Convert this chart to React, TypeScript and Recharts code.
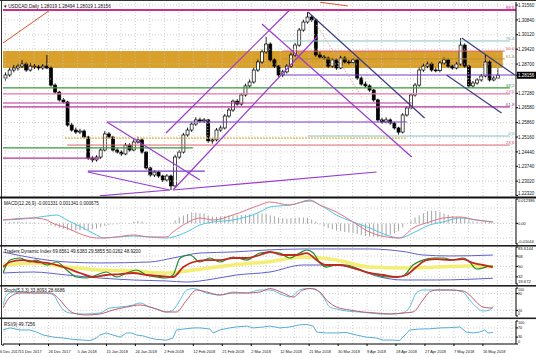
import React from 'react';
import { ComposedChart, Bar, Line, XAxis, YAxis, ReferenceLine, ReferenceArea, ReferenceDot } from 'recharts';

const FONT = '"Liberation Sans", Arial, sans-serif';
const CW = 536;
const PL = 3;
const AXW = 20;
const XD: [number, number] = [0, 124];
const GRID = '#c4c4c4';

// ---------- data ----------
const dateLabels = ['6 Dec 2017', '15 Dec 2017', '26 Dec 2017', '5 Jan 2018', '15 Jan 2018', '24 Jan 2018', '2 Feb 2018', '12 Feb 2018', '21 Feb 2018', '2 Mar 2018', '12 Mar 2018', '21 Mar 2018', '30 Mar 2018', '9 Apr 2018', '18 Apr 2018', '27 Apr 2018', '7 May 2018', '16 May 2018'];
const dateTickIdx = [0, 4, 11, 18, 25, 32, 39, 46, 53, 60, 67, 74, 81, 88, 95, 102, 109, 116];
const gridX = [0.5, 4, 7.5, 11, 14.5, 18, 21.5, 25, 28.5, 32, 35.5, 39, 42.5, 46, 49.5, 53, 56.5, 60, 63.5, 67, 70.5, 74, 77.5, 81, 84.5, 88, 91.5, 95, 98.5, 102, 105.5, 109, 112.5, 116, 119.5, 123];

const priceTicks = [1.3156, 1.3084, 1.3012, 1.2942, 1.287, 1.2728, 1.2658, 1.2586, 1.2516, 1.2444, 1.2374, 1.2302, 1.2232];
const priceGrid = [1.3156, 1.3084, 1.3012, 1.2942, 1.287, 1.2798, 1.2728, 1.2658, 1.2586, 1.2516, 1.2444, 1.2374, 1.2302];

// [open, high, low, close]
const ohlc: [number, number, number, number][] = [
  [1.2802, 1.2830, 1.2790, 1.2817], [1.2817, 1.2852, 1.2808, 1.2841], [1.2841, 1.2866, 1.2830, 1.2851], [1.2851, 1.2872, 1.2838, 1.2860], [1.2860, 1.2889, 1.2850, 1.2870],
  [1.2870, 1.2878, 1.2832, 1.2841], [1.2841, 1.2874, 1.2833, 1.2860], [1.2860, 1.2871, 1.2846, 1.2856], [1.2856, 1.2866, 1.2840, 1.2851], [1.2851, 1.2870, 1.2842, 1.2860],
  [1.2860, 1.2914, 1.2845, 1.2851], [1.2851, 1.2858, 1.2760, 1.2768], [1.2768, 1.2776, 1.2725, 1.2734], [1.2734, 1.2740, 1.2688, 1.2696], [1.2696, 1.2705, 1.2679, 1.2686],
  [1.2686, 1.2692, 1.2566, 1.2574], [1.2574, 1.2585, 1.2542, 1.2550], [1.2550, 1.2562, 1.2531, 1.2540], [1.2540, 1.2556, 1.2530, 1.2545], [1.2545, 1.2553, 1.2508, 1.2516],
  [1.2516, 1.2522, 1.2405, 1.2414], [1.2414, 1.2425, 1.2394, 1.2405], [1.2405, 1.2428, 1.2397, 1.2419], [1.2419, 1.2462, 1.2410, 1.2453], [1.2453, 1.2545, 1.2446, 1.2531],
  [1.2531, 1.2540, 1.2508, 1.2516], [1.2516, 1.2522, 1.2445, 1.2453], [1.2453, 1.2462, 1.2436, 1.2443], [1.2443, 1.2452, 1.2425, 1.2434], [1.2434, 1.2488, 1.2428, 1.2477],
  [1.2477, 1.2486, 1.2445, 1.2453], [1.2453, 1.2505, 1.2447, 1.2492], [1.2492, 1.2518, 1.2484, 1.2502], [1.2502, 1.2510, 1.2435, 1.2443], [1.2443, 1.2449, 1.2358, 1.2366],
  [1.2366, 1.2372, 1.2324, 1.2332], [1.2332, 1.2355, 1.2322, 1.2346], [1.2346, 1.2352, 1.2318, 1.2327], [1.2327, 1.2333, 1.2298, 1.2308], [1.2308, 1.2336, 1.2300, 1.2327],
  [1.2327, 1.2335, 1.2259, 1.2279], [1.2279, 1.2430, 1.2270, 1.2419], [1.2419, 1.2452, 1.2410, 1.2443], [1.2443, 1.2536, 1.2436, 1.2526], [1.2526, 1.2562, 1.2518, 1.2550],
  [1.2550, 1.2590, 1.2541, 1.2579], [1.2579, 1.2612, 1.2570, 1.2599], [1.2599, 1.2610, 1.2585, 1.2594], [1.2594, 1.2608, 1.2584, 1.2599], [1.2599, 1.2604, 1.2488, 1.2497],
  [1.2497, 1.2512, 1.2484, 1.2502], [1.2502, 1.2560, 1.2495, 1.2550], [1.2550, 1.2572, 1.2541, 1.2560], [1.2560, 1.2628, 1.2553, 1.2618], [1.2618, 1.2658, 1.2610, 1.2647],
  [1.2647, 1.2698, 1.2638, 1.2690], [1.2690, 1.2700, 1.2668, 1.2676], [1.2676, 1.2730, 1.2668, 1.2720], [1.2720, 1.2775, 1.2712, 1.2764], [1.2764, 1.2795, 1.2755, 1.2783],
  [1.2783, 1.2852, 1.2775, 1.2841], [1.2841, 1.2892, 1.2832, 1.2880], [1.2880, 1.2940, 1.2872, 1.2929], [1.2929, 1.3001, 1.2920, 1.2967], [1.2967, 1.2975, 1.2882, 1.2890],
  [1.2890, 1.2898, 1.2851, 1.2860], [1.2860, 1.2866, 1.2808, 1.2817], [1.2817, 1.2843, 1.2806, 1.2832], [1.2832, 1.2870, 1.2824, 1.2860], [1.2860, 1.2925, 1.2852, 1.2914],
  [1.2914, 1.2972, 1.2905, 1.2962], [1.2962, 1.3045, 1.2954, 1.3035], [1.3035, 1.3085, 1.3027, 1.3074], [1.3074, 1.3122, 1.3066, 1.3098], [1.3098, 1.3108, 1.3075, 1.3084],
  [1.3084, 1.3090, 1.2905, 1.2914], [1.2914, 1.2930, 1.2895, 1.2904], [1.2904, 1.2915, 1.2890, 1.2899], [1.2899, 1.2906, 1.2851, 1.2860], [1.2860, 1.2900, 1.2852, 1.2890],
  [1.2890, 1.2897, 1.2842, 1.2851], [1.2851, 1.2910, 1.2845, 1.2899], [1.2899, 1.2908, 1.2871, 1.2880], [1.2880, 1.2890, 1.2868, 1.2878], [1.2878, 1.2900, 1.2870, 1.2890],
  [1.2890, 1.2897, 1.2793, 1.2802], [1.2802, 1.2810, 1.2765, 1.2773], [1.2773, 1.2785, 1.2755, 1.2764], [1.2764, 1.2772, 1.2735, 1.2744], [1.2744, 1.2750, 1.2687, 1.2696],
  [1.2696, 1.2702, 1.2590, 1.2599], [1.2599, 1.2610, 1.2580, 1.2589], [1.2589, 1.2612, 1.2582, 1.2599], [1.2599, 1.2606, 1.2576, 1.2584], [1.2584, 1.2590, 1.2552, 1.2560],
  [1.2560, 1.2566, 1.2528, 1.2540], [1.2540, 1.2632, 1.2533, 1.2623], [1.2623, 1.2666, 1.2615, 1.2657], [1.2657, 1.2730, 1.2650, 1.2720], [1.2720, 1.2778, 1.2712, 1.2768],
  [1.2768, 1.2852, 1.2760, 1.2841], [1.2841, 1.2872, 1.2832, 1.2860], [1.2860, 1.2882, 1.2850, 1.2870], [1.2870, 1.2878, 1.2833, 1.2841], [1.2841, 1.2852, 1.2830, 1.2838],
  [1.2838, 1.2886, 1.2830, 1.2875], [1.2875, 1.2902, 1.2866, 1.2890], [1.2890, 1.2897, 1.2852, 1.2860], [1.2860, 1.2868, 1.2843, 1.2851], [1.2851, 1.2880, 1.2844, 1.2870],
  [1.2870, 1.2996, 1.2862, 1.2962], [1.2962, 1.2970, 1.2852, 1.2860], [1.2860, 1.2866, 1.2755, 1.2764], [1.2764, 1.2788, 1.2756, 1.2778], [1.2778, 1.2802, 1.2770, 1.2793],
  [1.2793, 1.2822, 1.2785, 1.2812], [1.2812, 1.2914, 1.2805, 1.2880], [1.2880, 1.2888, 1.2785, 1.2793], [1.2793, 1.2812, 1.2786, 1.2802], [1.28019, 1.28494, 1.28019, 1.28156],
];
const lastClose = ohlc[ohlc.length - 1][3];

// chart objects: [barIndex1, price1, barIndex2, price2]
type Seg = [number, number, number, number];
const violetTrend: Seg[] = [
  [39.4, 1.25357, 69.3, 1.31322],
  [41.1, 1.22592, 76.1, 1.30061],
  [62.6, 1.30643, 98.8, 1.24192],
  [41.1, 1.22592, 90.3, 1.23465],
  [25.1, 1.2589, 47.6, 1.23077],
  [20.5, 1.23465, 40.3, 1.22592],
  [23.4, 1.2231, 40.3, 1.22592],
];
const darkTrend: Seg[] = [
  [73.7, 1.31225, 101.9, 1.26084],
  [110.9, 1.29964, 123.7, 1.2817],
  [107.2, 1.2817, 120.5, 1.26326],
];
const orangeTrend: Seg[] = [
  [0, 1.29722, 11.4, 1.31322],
  [76.6, 1.3170, 83.3, 1.3152],
];
const dottedTrend: Seg[] = [[75.8, 1.30595, 86.7, 1.27103]];

// horizontal levels: [price, fromBar, toBar]
type Lvl = [number, number, number];
const topLevel: Lvl[] = [[1.3132, 0, 124]];
const tealLevels: Lvl[] = [[1.2982, 67.6, 122.5], [1.2521, 73.7, 122.5]];
const redLevels: Lvl[] = [[1.2933, 67.6, 121.3], [1.2477, 15.5, 122.5]];
const oliveLevels: Lvl[] = [[1.2895, 67.6, 121.3]];
const purpleLevels: Lvl[] = [[1.2817, 67.6, 124], [1.2589, 25.1, 97.6], [1.2351, 20.5, 48.8]];
const greenLevels: Lvl[] = [[1.2754, 0, 122.5], [1.2463, 0, 45.9]];
const pinkLevels: Lvl[] = [[1.2725, 0, 122.5]];
const magentaLevels: Lvl[] = [[1.2681, 0, 98.8], [1.2662, 0, 122.5], [1.2414, 0, 23.4]];
const orangeLevels: Lvl[] = [[1.2511, 15, 97.6]];
const zone = { x1: 0, x2: 120.8, y1: 1.2851, y2: 1.2933 };

const fibLabels: [string, number][] = [
  ['88.6', 1.3132], ['76.4', 1.2982], ['50.0', 1.2933], ['61.8', 1.2895], ['38.2', 1.2754],
  ['23.6', 1.2725], ['61.8', 1.2662], ['0.0', 1.2521], ['23.6', 1.2477],
];
const fibLabelColors = ['#c8308e', '#5e9c9c', '#d85050', '#a08a40', '#3a963a', '#dc6aa0', '#b03090', '#5e9c9c', '#d84060'];

// MACD
const macdHist = [
  0.0004, 0.0006, 0.0008, 0.0008, 0.0007, 0.0006, 0.0005, 0.0004, 0.0003, 0.0001,
  -0.0002, -0.001, -0.0016, -0.0022, -0.0027, -0.0033, -0.0035, -0.0036, -0.0036, -0.0034,
  -0.0033, -0.003, -0.0026, -0.002, -0.0012, -0.0008, -0.0006, -0.0004, -0.0002, 0.0,
  0.0002, 0.0008, 0.0012, 0.001, 0.0004, 0.0, -0.0002, -0.0003, -0.0003, -0.0002,
  0.0002, 0.0015, 0.003, 0.004, 0.0048, 0.0055, 0.0056, 0.0052, 0.005, 0.004,
  0.0035, 0.0034, 0.0036, 0.0038, 0.004, 0.004, 0.0041, 0.0043, 0.0044, 0.0046,
  0.0048, 0.005, 0.005, 0.0048, 0.0042, 0.0036, 0.003, 0.0026, 0.0024, 0.0026,
  0.0028, 0.003, 0.003, 0.0028, 0.002, 0.0008, -0.0006, -0.0016, -0.0024, -0.003,
  -0.0036, -0.004, -0.0044, -0.0046, -0.005, -0.0055, -0.006, -0.0064, -0.0066, -0.0068,
  -0.007, -0.0068, -0.0064, -0.0058, -0.005, -0.004, -0.002, 0.0, 0.0015, 0.003,
  0.0042, 0.0052, 0.0062, 0.0066, 0.0064, 0.0058, 0.005, 0.0044, 0.0038, 0.0034,
  0.003, 0.0024, 0.0016, 0.001, 0.0008, 0.0006, 0.0008, 0.0006, 0.0004, 0.0004,
];
const macdMain: [number, number][] = [
  [0, 0.00174], [7.3, 0.00275], [10.6, 0.00174], [11.4, 0.00073], [15.4, -0.00232], [19.4, -0.00587], [22.6, -0.00739], [24.2, -0.00739],
  [27.5, -0.00688], [31.5, -0.00587], [35.5, -0.00688], [39.5, -0.00688], [41.1, -0.00434], [44.4, 0.00022], [47.6, 0.00275], [50.8, 0.00174],
  [55.6, 0.00427], [62.1, 0.00934], [64.5, 0.01086], [69.3, 0.00934], [74.2, 0.01188], [76.6, 0.00934], [80.6, 0.00579], [84.6, 0.00073],
  [88.6, -0.00434], [92.7, -0.00688], [95.9, -0.00739], [99.1, -0.00232], [103.1, 0.00073], [106.4, 0.00275], [110.4, 0.00326], [114.4, 0.00174], [118.4, 0.00073],
];
const macdSignal: [number, number][] = [
  [0, 0.00174], [7.3, 0.00275], [10.6, 0.00377], [13, 0.00427], [15.4, 0.00174], [19.4, -0.00232], [22.6, -0.00587], [24.2, -0.00739],
  [27.5, -0.00688], [31.5, -0.00638], [35.5, -0.00688], [39.5, -0.00739], [41.1, -0.00688], [44.4, -0.00434], [47.6, -0.0008], [50.8, 0.00073],
  [55.6, 0.00174], [62.1, 0.00579], [64.5, 0.00833], [69.3, 0.00934], [74.2, 0.01137], [76.6, 0.00934], [80.6, 0.00427], [84.6, 0.00073],
  [88.6, -0.00232], [92.7, -0.00587], [95.9, -0.00739], [99.1, -0.00485], [103.1, -0.0008], [106.4, 0.00073], [110.4, 0.00275], [114.4, 0.00174], [118.4, 0.00073],
];
const macdTicks = [-0.01044, 0, 0.012386];
const macdTickLabels = ['-0.01044', '0.00', '0.012386'];

// Traders Dynamic Index
const tdiUpper: [number, number][] = [[0, 75], [7.3, 64.6], [15.4, 57.7], [23.4, 56], [35.5, 57.7], [41.1, 64.6], [47.6, 73.2], [55.6, 75], [63.7, 78.4], [72.5, 80.2], [80.6, 80.2], [88.6, 80.2], [97.5, 75], [101.5, 69.8], [108, 68.1], [118.4, 69.7]];
const tdiLower: [number, number][] = [[0, 38.7], [7.3, 40.4], [15.4, 35.2], [23.4, 30], [31.5, 26.6], [39.5, 24.9], [44.4, 23.1], [50.8, 28.3], [56.4, 35.2], [64.5, 40.4], [72.5, 52.5], [80.6, 52.5], [84.6, 47.3], [91.1, 31.8], [96.7, 26.6], [104.8, 26.6], [118.4, 29.6]];
const tdiBase: [number, number][] = [[0, 52.5], [7.3, 56], [15.4, 49], [23.4, 43.9], [31.5, 42.1], [39.5, 38.7], [44.4, 42.1], [51.6, 49], [58, 54.2], [63.7, 57.7], [72.5, 66.3], [80.6, 61.1], [88.6, 49], [96.7, 47.3], [104.8, 49], [112.8, 50.8], [118.4, 49.6]];
const tdiPrice: [number, number][] = [
  [0, 38.7], [1.7, 61.1], [4.1, 64.6], [6.5, 57.7], [8.1, 61.1], [10.6, 52.5], [13, 57.7], [15.4, 43.9], [17.8, 31.8], [20.2, 30], [22.6, 35.2],
  [25, 40.4], [27.5, 31.8], [29.9, 38.7], [32.3, 43.9], [34.7, 35.2], [37.1, 31.8], [39.5, 30], [41.1, 35.2], [42.8, 64.6], [45.2, 69.8],
  [47.6, 57.7], [50, 64.6], [52.4, 57.7], [55.6, 66.3], [58.9, 61.1], [62.1, 73.2], [64.5, 75], [66.9, 73.2], [69.3, 64.6], [71.7, 73.2],
  [73.4, 78.4], [75, 73.2], [76.6, 56], [78.2, 49], [80.6, 52.5], [83, 52.5], [85.4, 47.3], [87.8, 40.4], [90.3, 35.2], [92.7, 31.8],
  [95.1, 31.8], [96.7, 33.5], [99.1, 52.5], [101.5, 61.1], [103.9, 64.6], [106.4, 64.6], [108.8, 61.1], [111.2, 64.6], [112.8, 57.7],
  [114.4, 45.6], [116, 47.3], [117.7, 50.8], [118.4, 50.0],
];
const tdiSignal: [number, number][] = [
  [0, 49], [1.7, 57.7], [4.6, 61.1], [8.1, 57.7], [10.6, 56], [13, 52.5], [15.4, 47.3], [18.6, 38.7], [21.8, 31.8], [25, 35.2], [28.3, 36.9],
  [31.5, 38.7], [34.7, 35.2], [37.9, 33.5], [41.1, 31.8], [43.6, 49], [46, 57.7], [49.2, 61.1], [52.4, 61.1], [55.6, 64.6], [58.9, 64.6],
  [62.1, 69.8], [64.5, 75], [67.7, 69.8], [70.9, 69.8], [73.4, 73.2], [75.8, 61.1], [78.2, 52.5], [81.4, 52.5], [83.8, 49], [86.2, 43.9],
  [88.6, 38.7], [91.9, 35.2], [95.1, 31.8], [97.5, 35.2], [99.9, 49], [102.3, 61.1], [104.8, 62.8], [108, 61.1], [111.2, 62.8], [113.6, 56],
  [116, 52.5], [118.4, 48.9],
];
const tdiTicks = [19.672, 32, 50, 68, 83.6144];

// Stochastic
const stochMain: [number, number][] = [
  [0, 39.3], [0.9, 75], [2.5, 85.7], [4.9, 85.7], [7.3, 82.1], [10.6, 82.1], [12.2, 75], [13.4, 46.4], [14.6, 21.4], [16.2, 10.7], [19.4, 7.1],
  [23.4, 10.7], [25.8, 28.6], [28.3, 32.1], [31.5, 39.3], [33.1, 46.4], [35.5, 32.1], [37.9, 21.4], [39.5, 14.3], [41.1, 21.4], [42.8, 57.1],
  [44.4, 92.9], [46, 98], [49.2, 82.1], [52.4, 75], [55.6, 85.7], [58.9, 82.1], [62.1, 92.9], [64.5, 92.9], [67.7, 75], [69.3, 67.9],
  [71.7, 92.9], [73.4, 98], [75, 98], [77.4, 67.9], [79, 32.1], [80.6, 25], [83, 17.9], [86.2, 14.3], [88.6, 10.7], [91.1, 7.1], [93.5, 7.1],
  [96.7, 10.7], [98.3, 32.1], [99.9, 82.1], [101.5, 92.9], [104.8, 92.9], [108, 92.9], [111.2, 85.7], [112.8, 57.1], [114.4, 32.1], [116, 17.9],
  [117.7, 21.4], [118.4, 33.8],
];
const stochSignal: [number, number][] = [
  [0, 28.6], [1.7, 67.9], [4.1, 82.1], [7.3, 82.1], [11.4, 82.1], [13.8, 57.1], [15.4, 28.6], [17, 10.7], [20.2, 3.6], [23.4, 7.1], [26.6, 21.4],
  [29.9, 32.1], [33.1, 39.3], [36.3, 28.6], [39.5, 14.3], [41.9, 14.3], [44.4, 57.1], [46.8, 92.9], [49.2, 85.7], [52.4, 75], [55.6, 82.1],
  [58.9, 82.1], [62.1, 85.7], [64.5, 98], [67.7, 82.1], [70.1, 67.9], [72.5, 92.9], [74.2, 98], [76.6, 85.7], [78.2, 57.1], [80.6, 32.1],
  [83.8, 21.4], [87, 14.3], [90.3, 10.7], [93.5, 7.1], [96.7, 10.7], [99.1, 14.3], [101.5, 57.1], [103.1, 85.7], [104.8, 92.9], [108, 92.9],
  [111.2, 89.3], [112.8, 75], [114.4, 50], [116, 32.1], [117.7, 28.6], [118.4, 28.7],
];

// RSI
const rsiLine: [number, number][] = [
  [0, 61], [1.7, 70], [4.1, 61], [6.5, 61], [8.1, 52], [9.7, 39], [12.2, 30], [14.6, 26], [17, 20], [19.4, 17], [21, 15], [22.6, 26],
  [23.4, 39], [25, 48], [26.6, 39], [28.3, 30], [29.9, 48], [31.1, 48], [32.3, 39], [33.9, 35], [35.5, 26], [37.1, 20], [39.5, 17],
  [41.1, 26], [41.9, 61], [43.6, 65], [46, 70], [47.6, 70], [50, 65], [50.8, 48], [52.4, 61], [54.8, 70], [56.4, 74], [58.9, 78],
  [60.5, 70], [62.9, 74], [64.5, 78], [66.9, 70], [69.3, 74], [71.7, 83], [73.4, 85], [75, 78], [75.8, 52], [78.2, 48], [80.6, 48],
  [83, 50], [85.4, 39], [87.8, 30], [90.3, 26], [91.9, 17], [94.3, 17], [95.9, 15], [96.7, 30], [98.3, 61], [100.7, 65], [103.1, 66],
  [105.6, 70], [108, 71], [110.4, 74], [112, 52], [113.6, 48], [115.2, 52], [116.4, 61], [117.2, 48], [118.4, 50],
];

// ---------- helpers ----------
const candleRows = ohlc.map((d, i) => ({ x: i + 0.5, range: [d[2], d[1]], o: d[0], h: d[1], l: d[2], c: d[3] }));
const histRows = macdHist.map((v, i) => ({ x: i + 0.5, hist: v }));
const toRows = (series: Record<string, [number, number][]>) =>
  Object.entries(series).flatMap(([k, pts]) => pts.map(([x, v]) => ({ x, [k]: v })));
const macdRows = toRows({ main: macdMain, signal: macdSignal });
const tdiRows = toRows({ upper: tdiUpper, lower: tdiLower, base: tdiBase, price: tdiPrice, signal: tdiSignal });
const stochRows = toRows({ main: stochMain, signal: stochSignal });
const rsiRows = toRows({ rsi: rsiLine });

const Candle = (props: any) => {
  const { x, y, width, height, payload } = props;
  if (!payload || payload.o == null) return null;
  const { o, h, l, c } = payload;
  const top0 = height < 0 ? y + height : y;
  const hh = Math.abs(height);
  const cx = x + width / 2;
  const k = h - l > 0 ? hh / (h - l) : 0;
  const yo = top0 + (h - o) * k;
  const yc = top0 + (h - c) * k;
  const bt = Math.min(yo, yc);
  const bh = Math.max(Math.abs(yc - yo), 0.8);
  const bull = c >= o;
  return (
    <g>
      <line x1={cx} x2={cx} y1={top0} y2={top0 + hh} stroke="#000" strokeWidth={0.9} />
      <rect x={cx - 1.5} y={bt} width={3} height={bh} fill={bull ? '#fff' : '#000'} stroke="#000" strokeWidth={0.7} />
    </g>
  );
};

const axisTick = (labelOf: (v: number) => string, lo: number, hi: number, fs: number, hiDy: number, boxValue?: number) => (props: any) => {
  const { x, y, payload } = props;
  const v = payload.value as number;
  if (boxValue !== undefined && v === boxValue) {
    return (
      <g>
        <rect x={x - 1} y={y - 3.5} width={AXW} height={7} fill="#000" />
        <text x={x} y={y + 1.7} fontSize={fs} fontFamily={FONT} fill="#fff">{labelOf(v)}</text>
      </g>
    );
  }
  let dy = fs * 0.36;
  if (v === hi) dy = hiDy;
  if (v === lo) dy = -0.6;
  return <text x={x} y={y + dy} fontSize={fs} fontFamily={FONT} fill="#111">{labelOf(v)}</text>;
};

const dateTick = (props: any) => {
  const { x, y, payload } = props;
  const i = dateTickIdx.indexOf(payload.value);
  return <text x={i === 0 ? x - 3 : x} y={y + 6.5} fontSize={3.9} fontFamily={FONT} fill="#111">{dateLabels[i]}</text>;
};

const vGrid = (k: string) => gridX.map((v) => (
  <ReferenceLine key={k + 'vx' + v} x={v} stroke={GRID} strokeDasharray="1 2" strokeWidth={0.8} ifOverflow="hidden" />
));
const hGrid = (k: string, vals: number[]) => vals.map((v) => (
  <ReferenceLine key={k + 'hy' + v} y={v} stroke={GRID} strokeDasharray="1 2" strokeWidth={0.8} ifOverflow="hidden" />
));
const segLines = (k: string, segs: Seg[], stroke: string, w: number, dash?: string) => segs.map((s, i) => (
  <ReferenceLine key={k + i} segment={[{ x: s[0], y: s[1] }, { x: s[2], y: s[3] }]} stroke={stroke} strokeWidth={w} strokeDasharray={dash} ifOverflow="hidden" />
));
const levelLines = (k: string, lv: Lvl[], stroke: string, w: number, dash?: string) => lv.map((l, i) => (
  <ReferenceLine key={k + i} segment={[{ x: l[1], y: l[0] }, { x: l[2], y: l[0] }]} stroke={stroke} strokeWidth={w} strokeDasharray={dash} ifOverflow="hidden" />
));

const hiddenY = (domain: [number, number]) => (
  <YAxis orientation="right" width={AXW} domain={domain} allowDataOverflow tick={false} tickLine={false} axisLine={false} />
);

const abs = (top: number): React.CSSProperties => ({ position: 'absolute', left: 0, top });

export default function App() {
  return (
    <div style={{ position: 'fixed', left: 0, top: 0, width: CW, height: 358, background: '#fff', overflow: 'hidden' }}>
      {/* main price window */}
      <div style={abs(0)}>
        <ComposedChart width={CW} height={198} data={candleRows} margin={{ top: 2, right: 0, bottom: 2, left: PL }}>
          <XAxis type="number" dataKey="x" domain={XD} hide allowDataOverflow />
          <YAxis orientation="right" width={AXW} domain={[1.223, 1.3171]} allowDataOverflow interval={0}
            ticks={[...priceTicks, lastClose]} tick={axisTick((v) => v.toFixed(5), 1.2232, 1.3171, 4.5, 3.6, lastClose)}
            tickSize={2} tickMargin={0} tickLine={{ stroke: '#000' }} axisLine={{ stroke: '#000' }} />
          {vGrid('m')}
          {hGrid('m', priceGrid)}
          <ReferenceArea x1={zone.x1} x2={zone.x2} y1={zone.y1} y2={zone.y2} fill="#d9a02c" fillOpacity={1} stroke="none" ifOverflow="hidden" />
          {levelLines('top', topLevel, '#c8308e', 2)}
          {levelLines('teal', tealLevels, '#8cc4c4', 1)}
          {levelLines('red', redLevels, '#e06070', 1)}
          {levelLines('olive', oliveLevels, '#b89040', 1)}
          {levelLines('purp', purpleLevels, '#7a3cc8', 1.2)}
          {levelLines('green', greenLevels, '#3a9a3a', 1.2)}
          {levelLines('pink', pinkLevels, '#e67aac', 1.2)}
          {levelLines('mag', magentaLevels, '#b5339a', 1.2)}
          {levelLines('org', orangeLevels, '#e8b446', 1.2, '2 1')}
          {segLines('or', orangeTrend, '#d9552a', 1)}
          {segLines('dt', dottedTrend, '#e0a098', 1, '1.5 1.5')}
          {segLines('vi', violetTrend, '#9a3ad0', 1.2)}
          {segLines('dk', darkTrend, '#3c3c82', 1.2)}
          <Bar dataKey="range" barSize={3} isAnimationActive={false} shape={(p: any) => <Candle {...p} />} />
          {fibLabels.map((f, i) => (
            <ReferenceDot key={'fl' + i} x={123.6} y={f[1]} r={1} ifOverflow="visible"
              shape={(p: any) => (
                <text x={p.cx} y={p.cy - 1.2} textAnchor="end" fontSize={4.4} fontFamily={FONT} fill={fibLabelColors[i]}>{f[0]}</text>
              )} />
          ))}
        </ComposedChart>
      </div>

      {/* MACD window: histogram layer */}
      <div style={abs(198)}>
        <ComposedChart width={CW} height={47} data={histRows} margin={{ top: 1, right: 0, bottom: 1, left: PL }}>
          <XAxis type="number" dataKey="x" domain={XD} hide allowDataOverflow />
          <YAxis orientation="right" width={AXW} domain={[-0.01044, 0.012386]} allowDataOverflow interval={0}
            ticks={macdTicks} tick={axisTick((v) => macdTickLabels[macdTicks.indexOf(v)], -0.01044, 0.012386, 4.0, 3.4)}
            tickSize={2} tickMargin={0} tickLine={{ stroke: '#000' }} axisLine={{ stroke: '#000' }} />
          {vGrid('a')}
          {hGrid('a', [0.0078, 0, -0.0074])}
          <Bar dataKey="hist" barSize={1} fill="#a4a4a4" isAnimationActive={false} />
        </ComposedChart>
      </div>
      {/* MACD window: lines layer */}
      <div style={abs(198)}>
        <ComposedChart width={CW} height={47} data={macdRows} margin={{ top: 1, right: 0, bottom: 1, left: PL }}>
          <XAxis type="number" dataKey="x" domain={XD} hide allowDataOverflow />
          {hiddenY([-0.01044, 0.012386])}
          <Line dataKey="signal" type="monotone" stroke="#4cc4e6" strokeWidth={1} dot={false} connectNulls isAnimationActive={false} />
          <Line dataKey="main" type="monotone" stroke="#e07486" strokeWidth={1} dot={false} connectNulls isAnimationActive={false} />
        </ComposedChart>
      </div>

      {/* Traders Dynamic Index window */}
      <div style={abs(246)}>
        <ComposedChart width={CW} height={39} data={tdiRows} margin={{ top: 1, right: 0, bottom: 1, left: PL }}>
          <XAxis type="number" dataKey="x" domain={XD} hide allowDataOverflow />
          <YAxis orientation="right" width={AXW} domain={[19.672, 83.6144]} allowDataOverflow interval={0}
            ticks={tdiTicks} tick={axisTick((v) => String(v), 19.672, 83.6144, 4.2, 3.4)}
            tickSize={2} tickMargin={0} tickLine={{ stroke: '#000' }} axisLine={{ stroke: '#000' }} />
          {vGrid('t')}
          {hGrid('t', [68, 50, 32])}
          <Line dataKey="upper" type="monotone" stroke="#6060cc" strokeWidth={1} dot={false} connectNulls isAnimationActive={false} />
          <Line dataKey="lower" type="monotone" stroke="#6060cc" strokeWidth={1} dot={false} connectNulls isAnimationActive={false} />
          <Line dataKey="base" type="monotone" stroke="#f3ee74" strokeWidth={3.5} dot={false} connectNulls isAnimationActive={false} />
          <Line dataKey="price" type="monotone" stroke="#1f8a2a" strokeWidth={1.2} dot={false} connectNulls isAnimationActive={false} />
          <Line dataKey="signal" type="monotone" stroke="#c02a1e" strokeWidth={1.8} dot={false} connectNulls isAnimationActive={false} />
        </ComposedChart>
      </div>

      {/* Stochastic window */}
      <div style={abs(286)}>
        <ComposedChart width={CW} height={32} data={stochRows} margin={{ top: 2, right: 0, bottom: 2, left: PL }}>
          <XAxis type="number" dataKey="x" domain={XD} hide allowDataOverflow />
          <YAxis orientation="right" width={AXW} domain={[0, 100]} allowDataOverflow interval={0}
            ticks={[0, 20, 80, 100]} tick={axisTick((v) => String(v), 0, 100, 3.6, 2.6)}
            tickSize={2} tickMargin={0} tickLine={{ stroke: '#000' }} axisLine={{ stroke: '#000' }} />
          {vGrid('s')}
          {hGrid('s', [80, 20])}
          <Line dataKey="main" type="monotone" stroke="#5cbfe0" strokeWidth={1} dot={false} connectNulls isAnimationActive={false} />
          <Line dataKey="signal" type="monotone" stroke="#c25c6c" strokeWidth={1} dot={false} connectNulls isAnimationActive={false} />
        </ComposedChart>
      </div>

      {/* RSI window + date axis */}
      <div style={abs(319)}>
        <ComposedChart width={CW} height={39} data={rsiRows} margin={{ top: 2, right: 0, bottom: 0, left: PL }}>
          <XAxis type="number" dataKey="x" domain={XD} allowDataOverflow height={14} interval={0}
            ticks={dateTickIdx} tick={dateTick} tickSize={2} tickMargin={0}
            tickLine={{ stroke: '#000' }} axisLine={{ stroke: '#000' }} />
          <YAxis orientation="right" width={AXW} domain={[0, 100]} allowDataOverflow interval={0}
            ticks={[0, 30, 70, 100]} tick={axisTick((v) => String(v), 0, 100, 3.8, 3.0)}
            tickSize={2} tickMargin={0} tickLine={{ stroke: '#000' }} axisLine={{ stroke: '#000' }} />
          {vGrid('r')}
          {hGrid('r', [70, 30])}
          <Line dataKey="rsi" type="linear" stroke="#58acd6" strokeWidth={1} dot={false} connectNulls isAnimationActive={false} />
        </ComposedChart>
      </div>

      {/* window frames and titles */}
      <svg width={CW} height={358} style={{ position: 'absolute', left: 0, top: 0, pointerEvents: 'none' }}>
        <rect x={0} y={0} width={CW} height={1} fill="#333" />
        <rect x={1} y={0} width={1} height={345} fill="#333" />
        <rect x={0} y={196.5} width={CW} height={2} fill="#111" />
        <rect x={0} y={245} width={CW} height={1.6} fill="#222" />
        <rect x={0} y={285} width={CW} height={1.6} fill="#222" />
        <rect x={0} y={317.5} width={CW} height={1.6} fill="#222" />
        <text x={4} y={8} fontSize={4.6} fontFamily={FONT} fill="#111">▾ USDCAD,Daily  1.28019 1.28494 1.28019 1.28156</text>
        <text x={4} y={205} fontSize={4.6} fontFamily={FONT} fill="#111">MACD(12,26,9) -0.001331 0.001341 0.000675</text>
        <text x={4} y={252.5} fontSize={4.6} fontFamily={FONT} fill="#111">Traders Dynamic Index 69.6561 49.6383 29.5855 50.0262 48.9200</text>
        <text x={4} y={292} fontSize={4.6} fontFamily={FONT} fill="#111">Stoch(5,3,3) 33.8093 28.6686</text>
        <text x={4} y={325.5} fontSize={4.6} fontFamily={FONT} fill="#111">RSI(9) 49.7256</text>
      </svg>
    </div>
  );
}
